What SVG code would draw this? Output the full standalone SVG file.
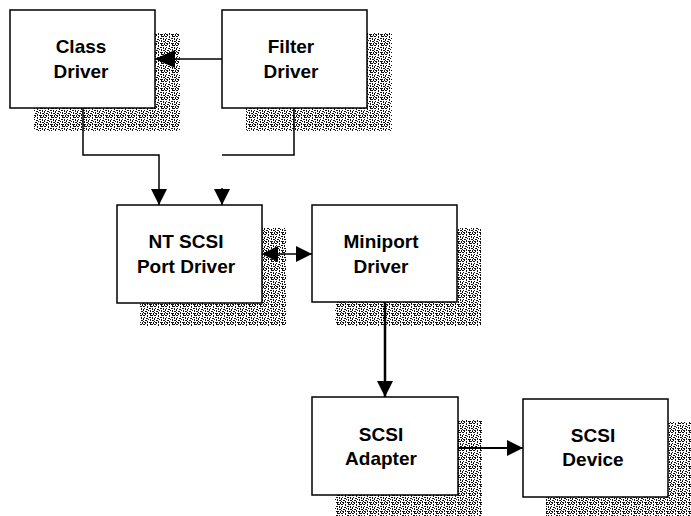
<svg xmlns="http://www.w3.org/2000/svg" width="691" height="516" viewBox="0 0 691 516">
<defs>
<pattern id="stip" width="11" height="9" patternUnits="userSpaceOnUse">
<rect width="11" height="9" fill="#fff"/>
<path fill="#111" d="M0,0h2v1h-2z M4,0h1v2h-1z M7,0h3v1h-3z M1,2h1v1h-1z M6,2h2v1h-2z M9,2h1v2h-1z M0,3h1v2h-1z M3,3h2v1h-2z M5,4h1v1h-1z M7,4h1v2h-1z M2,5h2v1h-2z M9,5h2v1h-2z M0,6h1v1h-1z M4,6h1v2h-1z M6,7h3v1h-3z M1,7h2v1h-2z M10,7h1v2h-1z M2,8h1v1h-1z M7,8h1v1h-1z"/>
</pattern>
<marker id="ah" markerUnits="userSpaceOnUse" viewBox="0 0 16 16" markerWidth="16" markerHeight="16" refX="16" refY="8" orient="auto-start-reverse">
<path d="M0,0 L16,8 L0,16 z" fill="#000"/>
</marker>
<marker id="ahl" markerUnits="userSpaceOnUse" viewBox="0 0 20 18" markerWidth="20" markerHeight="18" refX="20" refY="9" orient="auto">
<path d="M0,0 L20,9 L0,18 z" fill="#000"/>
</marker>
</defs>
<style>
.shadow{fill:url(#stip);stroke:none}
.box{fill:#fff;stroke:#000;stroke-width:1.5}
.lbl{font-family:"Liberation Sans",Arial,sans-serif;font-weight:bold;font-size:19px;fill:#000;text-anchor:middle}
.conn{fill:none;stroke:#000;stroke-width:1.5}
</style>
<g id="class-driver">
<rect class="shadow" x="34" y="33" width="146" height="98"/>
<rect class="box" x="10" y="10" width="145" height="98"/>
<text class="lbl" x="81" y="53">Class</text>
<text class="lbl" x="81" y="78">Driver</text>
</g>
<g id="filter-driver">
<rect class="shadow" x="246" y="33" width="146" height="98"/>
<rect class="box" x="222" y="10" width="145" height="98"/>
<text class="lbl" x="291" y="53">Filter</text>
<text class="lbl" x="291" y="78">Driver</text>
</g>
<g id="nt-scsi-port-driver">
<rect class="shadow" x="140" y="228" width="146" height="98"/>
<rect class="box" x="117" y="205" width="145" height="98"/>
<text class="lbl" x="186" y="248">NT SCSI</text>
<text class="lbl" x="186" y="273">Port Driver</text>
</g>
<g id="miniport-driver">
<rect class="shadow" x="335" y="228" width="146" height="98"/>
<rect class="box" x="312" y="205" width="145" height="97"/>
<text class="lbl" x="381" y="248">Miniport</text>
<text class="lbl" x="381" y="273">Driver</text>
</g>
<g id="scsi-adapter">
<rect class="shadow" x="335" y="420" width="147" height="98"/>
<rect class="box" x="312" y="397" width="146" height="98"/>
<text class="lbl" x="381" y="441">SCSI</text>
<text class="lbl" x="381" y="465">Adapter</text>
</g>
<g id="scsi-device">
<rect class="shadow" x="546" y="422" width="146" height="98"/>
<rect class="box" x="523" y="399" width="145" height="98"/>
<text class="lbl" x="593" y="442">SCSI</text>
<text class="lbl" x="593" y="466">Device</text>
</g>
<g id="connectors">
<path class="conn" d="M222,59 H155" marker-end="url(#ahl)"/>
<path class="conn" d="M83,108 V155 H159 V205" marker-end="url(#ah)"/>
<path class="conn" d="M294,108 V155 H222 M222,188 V205" marker-end="url(#ah)"/>
<path class="conn" d="M262,254 H312" marker-start="url(#ah)" marker-end="url(#ah)"/>
<path class="conn" style="stroke-width:2.5" d="M385,302 V397" marker-end="url(#ah)"/>
<path class="conn" style="stroke-width:2" d="M458,448 H523" marker-end="url(#ah)"/>
</g>
</svg>
